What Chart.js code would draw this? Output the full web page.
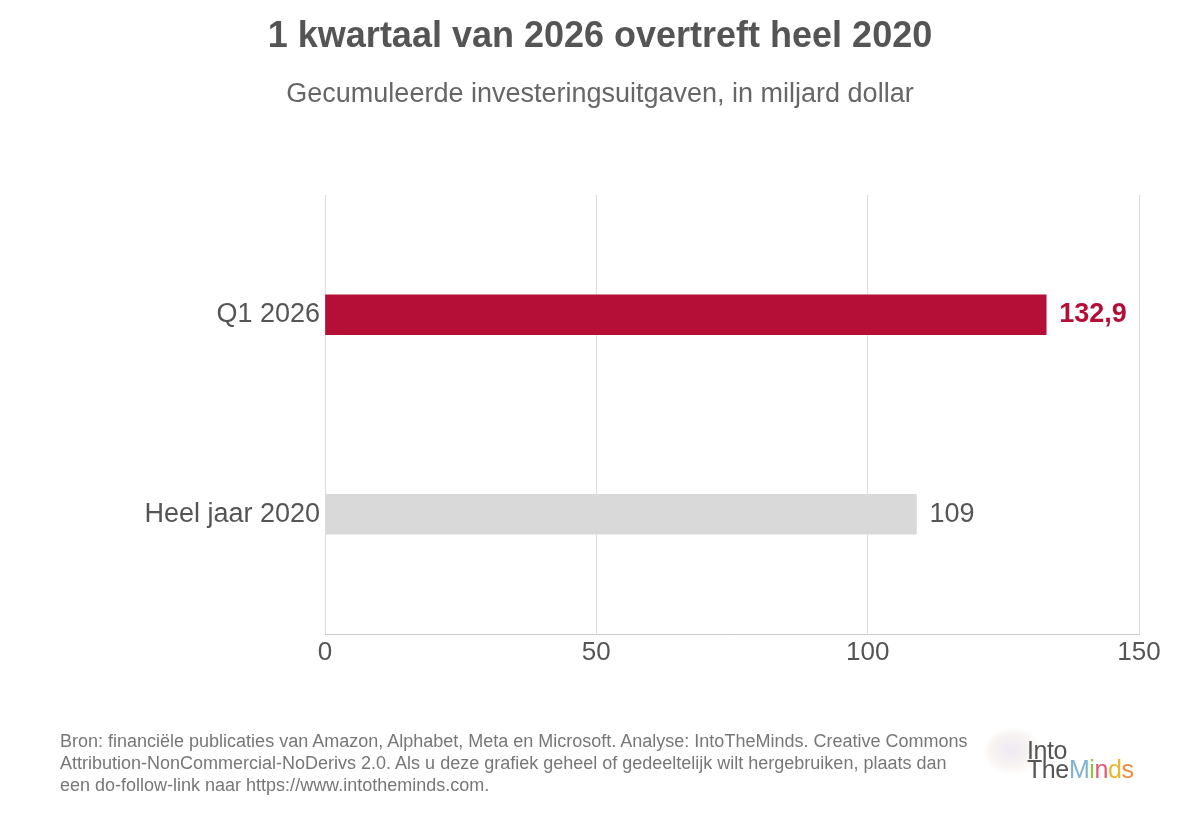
<!DOCTYPE html>
<html>
<head>
<meta charset="utf-8">
<script src="https://cdn.jsdelivr.net/npm/chart.js@4"></script>
<style>
  html, body { margin: 0; padding: 0; background: #fff; }
  body { width: 1200px; height: 816px; position: relative; overflow: hidden; font-family: "Liberation Sans", Arial, sans-serif; }
  #chartBox { position: absolute; left: 0; top: 0; width: 1200px; height: 816px; }
  .title { position: absolute; left: 0; width: 1200px; text-align: center; top: 14px; font-size: 36px; font-weight: bold; color: #555; }
  .subtitle { position: absolute; left: 0; width: 1200px; text-align: center; top: 78px; font-size: 27px; color: #666; }
  .footer { position: absolute; left: 60px; top: 730px; font-size: 18px; line-height: 22px; color: #777; }
  .logo { position: absolute; left: 1027px; top: 741px; font-size: 25px; line-height: 19px; color: #555; letter-spacing: -0.4px; }
  .brain { position: absolute; left: 986px; top: 730px; width: 56px; height: 44px; border-radius: 50%;
           background: radial-gradient(ellipse at 45% 45%, rgba(225,215,235,0.55) 0%, rgba(235,225,215,0.35) 50%, rgba(255,255,255,0) 75%);
           filter: blur(2px); }
</style>
</head>
<body>
<div id="chartBox"><canvas id="capexChart" width="1200" height="816"></canvas></div>
<div class="title">1 kwartaal van 2026 overtreft heel 2020</div>
<div class="subtitle">Gecumuleerde investeringsuitgaven, in miljard dollar</div>
<div class="footer">Bron: financiële publicaties van Amazon, Alphabet, Meta en Microsoft. Analyse: IntoTheMinds. Creative Commons<br>Attribution-NonCommercial-NoDerivs 2.0. Als u deze grafiek geheel of gedeeltelijk wilt hergebruiken, plaats dan<br>een do-follow-link naar https://www.intotheminds.com.</div>
<div class="brain"></div>
<div class="logo">Into<br>The<span style="color:#7fb3d5">M</span><span style="color:#8cc63f">i</span><span style="color:#e05a7a">n</span><span style="color:#e8b730">d</span><span style="color:#f08a3c">s</span></div>
<script>
const categories = ['Q1 2026', 'Heel jaar 2020'];
const values = [132.9, 109];
const valueLabels = ['132,9', '109'];
const xTicks = [0, 50, 100, 150];

const barColors = ['#b50e37', '#d9d9d9'];
const labelColors = ['#b50e37', '#555'];
const labelWeights = ['bold', 'normal'];

// draw the value next to each bar end
const valueLabelPlugin = {
  id: 'valueLabels',
  afterDatasetsDraw(chart) {
    const c = chart.ctx;
    const meta = chart.getDatasetMeta(0);
    meta.data.forEach((bar, i) => {
      c.save();
      c.font = labelWeights[i] + ' 27px "Liberation Sans", Arial, sans-serif';
      c.fillStyle = labelColors[i];
      c.textAlign = 'left';
      c.textBaseline = 'middle';
      c.fillText(valueLabels[i], bar.x + 13, bar.y);
      c.restore();
    });
  }
};

const ctx = document.getElementById('capexChart').getContext('2d');

new Chart(ctx, {
  type: 'bar',
  data: {
    datasets: [{
      data: values.map((v, i) => ({ x: v, y: i })),
      backgroundColor: barColors,
      barThickness: 40,
      borderWidth: 0
    }]
  },
  options: {
    indexAxis: 'y',
    responsive: false,
    animation: false,
    layout: { padding: { top: 195, right: 61, left: 0, bottom: 0 } },
    scales: {
      x: {
        type: 'linear',
        min: 0,
        max: 150,
        afterBuildTicks: s => { s.ticks = xTicks.map(v => ({ value: v })); },
        afterFit: s => { s.height = 182; },
        grid: { color: '#dddddd', drawTicks: false, lineWidth: 1 },
        border: { color: '#cccccc' },
        ticks: { color: '#555', font: { size: 26, family: '"Liberation Sans", Arial, sans-serif' }, padding: 3 }
      },
      y: {
        type: 'linear',
        reverse: true,
        offset: false,
        grace: 0,
        min: -0.6,
        max: 1.6,
        afterBuildTicks: s => { s.ticks = categories.map((c, i) => ({ value: i })); },
        afterFit: s => { s.width = 325; },
        grid: { display: false, drawTicks: false, tickLength: 0 },
        border: { display: false },
        ticks: {
          color: '#555',
          padding: 5,
          font: { size: 27, family: '"Liberation Sans", Arial, sans-serif' },
          callback: v => categories[v]
        }
      }
    },
    plugins: {
      legend: { display: false },
      tooltip: { enabled: false }
    }
  },
  plugins: [valueLabelPlugin]
});
</script>
</body>
</html>
